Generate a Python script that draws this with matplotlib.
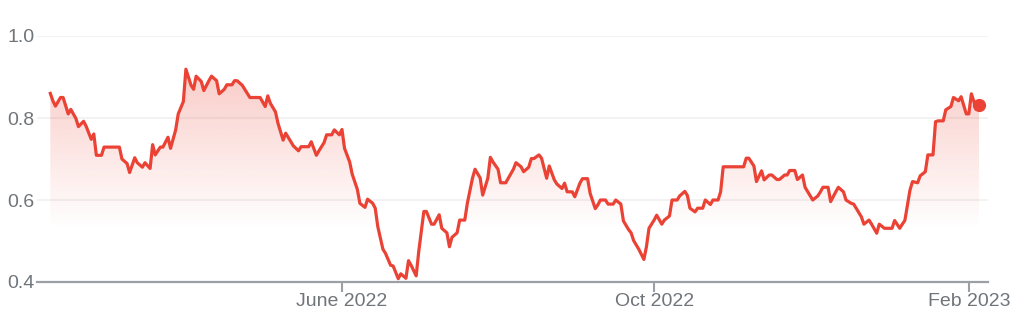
import matplotlib
matplotlib.use("Agg")
import matplotlib.pyplot as plt
import matplotlib.dates as mdates
import numpy as np
import pandas as pd
from matplotlib.colors import to_rgb
from matplotlib.patches import Polygon

dates = [
    "2022-02-07", "2022-02-08", "2022-02-09", "2022-02-11", "2022-02-12", "2022-02-14", "2022-02-15",
    "2022-02-17", "2022-02-18", "2022-02-20", "2022-02-21", "2022-02-23", "2022-02-24", "2022-02-25",
    "2022-02-27", "2022-02-28", "2022-03-06", "2022-03-07", "2022-03-09", "2022-03-10", "2022-03-12",
    "2022-03-13", "2022-03-15", "2022-03-16", "2022-03-18", "2022-03-19", "2022-03-20", "2022-03-22",
    "2022-03-23", "2022-03-25", "2022-03-26", "2022-03-28", "2022-03-29", "2022-03-31", "2022-04-01",
    "2022-04-03", "2022-04-04", "2022-04-05", "2022-04-07", "2022-04-08", "2022-04-10", "2022-04-11",
    "2022-04-13", "2022-04-14", "2022-04-16", "2022-04-17", "2022-04-19", "2022-04-20", "2022-04-21",
    "2022-04-23", "2022-04-24", "2022-04-26", "2022-04-30", "2022-05-02", "2022-05-03", "2022-05-04",
    "2022-05-06", "2022-05-07", "2022-05-09", "2022-05-10", "2022-05-12", "2022-05-13", "2022-05-15",
    "2022-05-16", "2022-05-19", "2022-05-20", "2022-05-22", "2022-05-23", "2022-05-25", "2022-05-26",
    "2022-05-28", "2022-05-29", "2022-05-31", "2022-06-01", "2022-06-02", "2022-06-04", "2022-06-05",
    "2022-06-07", "2022-06-08", "2022-06-10", "2022-06-11", "2022-06-13", "2022-06-14", "2022-06-15",
    "2022-06-17", "2022-06-18", "2022-06-20", "2022-06-21", "2022-06-23", "2022-06-24", "2022-06-26",
    "2022-06-27", "2022-06-28", "2022-06-30", "2022-07-01", "2022-07-03", "2022-07-04", "2022-07-06",
    "2022-07-07", "2022-07-09", "2022-07-10", "2022-07-12", "2022-07-13", "2022-07-14", "2022-07-16",
    "2022-07-17", "2022-07-19", "2022-07-20", "2022-07-22", "2022-07-23", "2022-07-25", "2022-07-26",
    "2022-07-28", "2022-07-29", "2022-07-30", "2022-08-01", "2022-08-02", "2022-08-04", "2022-08-05",
    "2022-08-07", "2022-08-08", "2022-08-10", "2022-08-11", "2022-08-13", "2022-08-14", "2022-08-15",
    "2022-08-17", "2022-08-18", "2022-08-20", "2022-08-21", "2022-08-23", "2022-08-24", "2022-08-26",
    "2022-08-27", "2022-08-28", "2022-08-30", "2022-08-31", "2022-09-02", "2022-09-03", "2022-09-05",
    "2022-09-06", "2022-09-08", "2022-09-09", "2022-09-10", "2022-09-12", "2022-09-13", "2022-09-15",
    "2022-09-16", "2022-09-18", "2022-09-19", "2022-09-21", "2022-09-22", "2022-09-23", "2022-09-25",
    "2022-09-27", "2022-09-28", "2022-09-29", "2022-10-01", "2022-10-02", "2022-10-04", "2022-10-05",
    "2022-10-07", "2022-10-08", "2022-10-10", "2022-10-11", "2022-10-13", "2022-10-14", "2022-10-15",
    "2022-10-17", "2022-10-18", "2022-10-20", "2022-10-21", "2022-10-23", "2022-10-24", "2022-10-26",
    "2022-10-27", "2022-10-28", "2022-10-30", "2022-11-05", "2022-11-06", "2022-11-07", "2022-11-09",
    "2022-11-10", "2022-11-12", "2022-11-13", "2022-11-15", "2022-11-16", "2022-11-18", "2022-11-19",
    "2022-11-21", "2022-11-22", "2022-11-23", "2022-11-25", "2022-11-26", "2022-11-28", "2022-11-29",
    "2022-12-01", "2022-12-02", "2022-12-04", "2022-12-05", "2022-12-06", "2022-12-08", "2022-12-09",
    "2022-12-11", "2022-12-12", "2022-12-14", "2022-12-15", "2022-12-17", "2022-12-18", "2022-12-20",
    "2022-12-21", "2022-12-22", "2022-12-24", "2022-12-25", "2022-12-27", "2022-12-28", "2022-12-30",
    "2023-01-02", "2023-01-03", "2023-01-05", "2023-01-06", "2023-01-07", "2023-01-09", "2023-01-10",
    "2023-01-12", "2023-01-13", "2023-01-15", "2023-01-16", "2023-01-18", "2023-01-19", "2023-01-20",
    "2023-01-22", "2023-01-23", "2023-01-25", "2023-01-26", "2023-01-28", "2023-01-29", "2023-01-31",
    "2023-02-01", "2023-02-02", "2023-02-04", "2023-02-05",
]
values = [
    0.860, 0.842, 0.829, 0.850, 0.850, 0.810, 0.821,
    0.799, 0.779, 0.792, 0.780, 0.748, 0.761, 0.709,
    0.709, 0.729, 0.729, 0.700, 0.689, 0.667, 0.703,
    0.691, 0.680, 0.691, 0.677, 0.735, 0.710, 0.729,
    0.729, 0.753, 0.726, 0.771, 0.810, 0.840, 0.919,
    0.880, 0.870, 0.902, 0.889, 0.867, 0.891, 0.902,
    0.891, 0.859, 0.870, 0.881, 0.881, 0.891, 0.891,
    0.880, 0.870, 0.850, 0.850, 0.828, 0.854, 0.836,
    0.815, 0.787, 0.746, 0.763, 0.742, 0.732, 0.720,
    0.730, 0.730, 0.742, 0.709, 0.720, 0.740, 0.759,
    0.759, 0.771, 0.759, 0.772, 0.726, 0.693, 0.663,
    0.626, 0.592, 0.582, 0.602, 0.592, 0.580, 0.535,
    0.480, 0.470, 0.441, 0.439, 0.408, 0.420, 0.409,
    0.452, 0.441, 0.415, 0.474, 0.572, 0.572, 0.541,
    0.541, 0.564, 0.531, 0.520, 0.486, 0.509, 0.520,
    0.551, 0.551, 0.592, 0.653, 0.675, 0.654, 0.612,
    0.653, 0.704, 0.693, 0.675, 0.642, 0.642, 0.653,
    0.675, 0.691, 0.681, 0.669, 0.680, 0.701, 0.701,
    0.710, 0.702, 0.653, 0.683, 0.649, 0.639, 0.628,
    0.641, 0.620, 0.620, 0.608, 0.641, 0.652, 0.652,
    0.616, 0.579, 0.588, 0.600, 0.600, 0.590, 0.590,
    0.600, 0.590, 0.549, 0.528, 0.520, 0.501, 0.480,
    0.455, 0.486, 0.531, 0.551, 0.563, 0.541, 0.551,
    0.561, 0.600, 0.600, 0.610, 0.621, 0.611, 0.580,
    0.571, 0.580, 0.580, 0.600, 0.589, 0.600, 0.600,
    0.620, 0.681, 0.681, 0.681, 0.702, 0.702, 0.683,
    0.645, 0.671, 0.649, 0.661, 0.661, 0.650, 0.650,
    0.661, 0.661, 0.672, 0.672, 0.650, 0.661, 0.631,
    0.610, 0.600, 0.610, 0.620, 0.631, 0.631, 0.596,
    0.620, 0.631, 0.620, 0.600, 0.592, 0.590, 0.569,
    0.559, 0.541, 0.551, 0.541, 0.519, 0.541, 0.531,
    0.531, 0.550, 0.531, 0.541, 0.550, 0.624, 0.645,
    0.642, 0.659, 0.669, 0.710, 0.710, 0.791, 0.793,
    0.793, 0.820, 0.828, 0.850, 0.842, 0.852, 0.810,
    0.810, 0.859, 0.821, 0.832,
]
tick_dates = ["2022-06-01", "2022-10-01", "2023-02-01"]
tick_labels = ["June 2022", "Oct 2022", "Feb 2023"]
y_ticks = [0.4, 0.6, 0.8, 1.0]
y_labels = ["0.4", "0.6", "0.8", "1.0"]

RED = "#ea4335"
TEXT_GRAY = "#70757a"
AXIS_GRAY = "#9aa0a6"

plt.rcParams['font.family'] = ['Liberation Sans', 'DejaVu Sans']

x = mdates.date2num(pd.to_datetime(dates))
y = np.array(values)

fig = plt.figure(figsize=(10.16, 3.2), dpi=100)
ax = fig.add_axes([37 / 1016, 38 / 320, 951 / 1016, 246 / 320])

# gradient under the line, clipped to the area below it
ymin, ymax = 0.4, 1.0
rgba = np.zeros((256, 1, 4))
rgba[..., :3] = to_rgb(RED)
rgba[:, 0, 3] = np.linspace(0, 0.28, 256)
im = ax.imshow(rgba, aspect='auto', origin='lower', interpolation='bilinear',
               extent=[x[0], x[-1], 0.53, 0.93], zorder=1)
verts = np.column_stack([np.r_[x[0], x, x[-1]], np.r_[ymin, y, ymin]])
clip = Polygon(verts, closed=True, transform=ax.transData,
               facecolor='none', edgecolor='none')
ax.add_patch(clip)
im.set_clip_path(clip)

ax.plot(x, y, color=RED, lw=2.3, zorder=3)
ax.plot(x[-1], y[-1], 'o', color=RED, ms=8.5, zorder=4)

ax.xaxis_date()
xl = mdates.date2num(pd.Timestamp("2022-02-01")) + 0.8
xr = mdates.date2num(pd.Timestamp("2022-02-01")) + 372.5
ax.set_xlim(xl, xr)
ax.set_ylim(ymin, ymax)

ax.set_yticks(y_ticks)
ax.set_yticklabels(y_labels)
ax.set_xticks(mdates.date2num(pd.to_datetime(tick_dates)))
ax.set_xticklabels(tick_labels)

for s in ['top', 'right', 'left']:
    ax.spines[s].set_visible(False)
ax.spines['bottom'].set_color(AXIS_GRAY)
ax.spines['bottom'].set_linewidth(1.6)
ax.spines['bottom'].set_zorder(5)

ax.grid(axis='y', color='#f1f1f1', lw=1.3, zorder=0)
ax.set_axisbelow(True)
ax.tick_params(axis='y', length=0, pad=2, labelsize=14, labelcolor=TEXT_GRAY)
ax.tick_params(axis='x', length=7, width=1.5, color=AXIS_GRAY, pad=1,
               labelsize=14, labelcolor=TEXT_GRAY)

fig.savefig("out.png", dpi=100, facecolor='white')
